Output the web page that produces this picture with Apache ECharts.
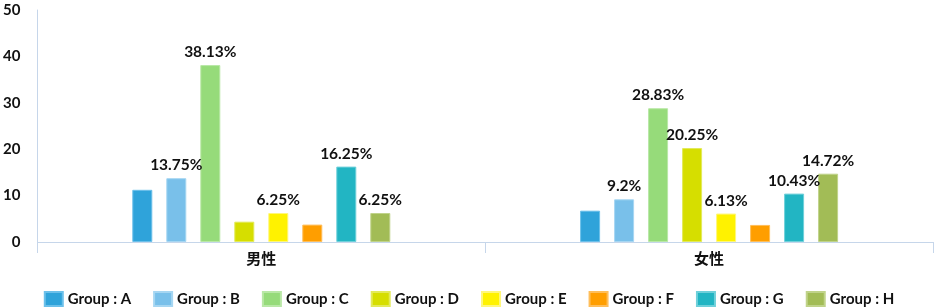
<!DOCTYPE html>
<html>
<head>
<meta charset="utf-8">
<script src="https://cdn.jsdelivr.net/npm/echarts@6/dist/echarts.min.js"></script>
<style>
html,body{margin:0;padding:0;background:#fff;}
#c{width:938px;height:308px;}
</style>
</head>
<body>
<div id="c"></div>
<script>
var categories = ['男性', '女性'];
var groupNames = ['Group : A', 'Group : B', 'Group : C', 'Group : D', 'Group : E', 'Group : F', 'Group : G', 'Group : H'];
var groupA = [11.25, 6.75];
var groupB = [13.75, 9.2];
var groupC = [38.13, 28.83];
var groupD = [4.38, 20.25];
var groupE = [6.25, 6.13];
var groupF = [3.75, 3.68];
var groupG = [16.25, 10.43];
var groupH = [6.25, 14.72];
// whether a value label is printed above each bar [男性, 女性]
var labelA = [false, false];
var labelB = [true, true];
var labelC = [true, true];
var labelD = [false, true];
var labelE = [true, true];
var labelF = [false, false];
var labelG = [true, true];
var labelH = [true, true];
var yTicks = [0, 10, 20, 30, 40, 50];

var FONT = 'Lato, "Noto Sans", sans-serif';
var colors = ['#2fa3da', '#79c0ea', '#96db7a', '#d6de00', '#fff200', '#ff9e00', '#22b5c3', '#a2bc56'];
var borders = ['#6cc0ea', '#a6d6f2', '#b9e8a6', '#e3ea5a', '#fff77a', '#ffbe5a', '#6fd0da', '#c0d38a'];
var allValues = [groupA, groupB, groupC, groupD, groupE, groupF, groupG, groupH];
var allLabels = [labelA, labelB, labelC, labelD, labelE, labelF, labelG, labelH];

var series = groupNames.map(function (name, i) {
  return {
    name: name,
    type: 'bar',
    barWidth: 20,
    barGap: '70%',
    itemStyle: { color: colors[i], borderColor: borders[i], borderWidth: 1 },
    data: allValues[i].map(function (v, j) {
      return {
        value: v,
        label: {
          show: allLabels[i][j],
          position: 'top',
          distance: 5,
          formatter: function (p) { return p.value + '%'; },
          color: '#111',
          fontSize: 15.5,
          fontWeight: 'bold',
          fontFamily: FONT
        }
      };
    })
  };
});

var chart = echarts.init(document.getElementById('c'));
chart.setOption({
  animation: false,
  color: colors,
  grid: { left: 34, right: 5, top: 10, bottom: 66, containLabel: false },
  legend: {
    data: groupNames,
    left: 'center',
    top: 286,
    itemWidth: 18,
    itemHeight: 14,
    itemGap: 22,
    icon: 'rect',
    textStyle: { color: '#111', fontSize: 15, fontWeight: 'bold', fontFamily: FONT }
  },
  xAxis: {
    type: 'category',
    data: categories,
    axisLine: { show: true, lineStyle: { color: '#c6d6ea', width: 1 } },
    axisTick: { show: true, length: 11, lineStyle: { color: '#c6d6ea' } },
    axisLabel: { color: '#111', fontSize: 15, fontWeight: 'bold', margin: 9, fontFamily: '"Noto Sans CJK SC", sans-serif' },
    splitLine: { show: false }
  },
  yAxis: {
    type: 'value',
    min: yTicks[0],
    max: yTicks[yTicks.length - 1],
    interval: yTicks[1] - yTicks[0],
    axisLine: { show: true, lineStyle: { color: '#c6d6ea', width: 1 } },
    axisTick: { show: false },
    splitLine: { show: false },
    axisLabel: { color: '#111', fontSize: 15, fontWeight: 'bold', margin: 17, fontFamily: FONT, padding: [0, 0, 7, 0] }
  },
  series: series
});
</script>
</body>
</html>
